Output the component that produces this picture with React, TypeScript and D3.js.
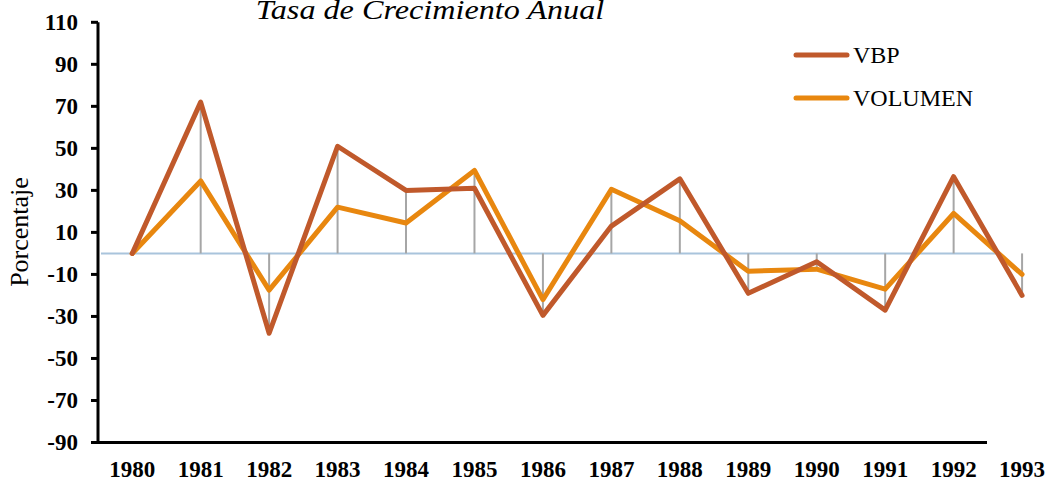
import React from "react";
import * as d3 from "d3";

const years = ["1980","1981","1982","1983","1984","1985","1986","1987","1988","1989","1990","1991","1992","1993"];
const vbp = [0, 72, -38, 51, 30, 31, -29.5, 13, 35.5, -19, -4, -27, 36.5, -20];
const volumen = [0, 34.5, -17.5, 22, 14.5, 39.5, -22, 30.5, 15.5, -8.5, -7.5, -17, 19, -10];
const yTicks = [110, 90, 70, 50, 30, 10, -10, -30, -50, -70, -90];

const W = 1050, H = 479;
const FONT = "Liberation Serif, Tinos, Nimbus Roman, Times New Roman, Times, DejaVu Serif, serif";
const C_VBP = "#C0592B";
const C_VOL = "#E8870F";

export default function App() {
  const axisX = 98;
  const step = 68.45;
  const x = (i: number) => axisX + (i + 0.5) * step;
  const y = d3.scaleLinear().domain([-90, 110]).range([442.5, 22.3]);
  const line = d3.line<number>().x((_, i) => x(i)).y(d => y(d));
  const y0 = y(0);
  return (
    <svg width={W} height={H} style={{ position: "absolute", left: 0, top: 0, background: "#fff" }}>
      <g transform="translate(430,19) scale(1.15,1)">
        <text x={0} y={0} textAnchor="middle" style={{ fontFamily: FONT }} fontStyle="italic" fontSize={28}>Tasa de Crecimiento Anual</text>
      </g>
      <line x1={101} x2={998} y1={y0} y2={y0} stroke="#A9C4DC" strokeWidth={2} />
      {years.map((yr, i) => {
        const top = Math.max(vbp[i], volumen[i]);
        const bot = Math.min(vbp[i], volumen[i]);
        const v = top > 0 ? top : bot;
        return <line key={yr} x1={x(i)} x2={x(i)} y1={y0} y2={y(v)} stroke="#A6A6A6" strokeWidth={2} />;
      })}
      <line x1={axisX} x2={axisX} y1={y(110)} y2={y(-90) + 1.5} stroke="#000" strokeWidth={3} />
      <line x1={axisX - 1.5} x2={987} y1={y(-90)} y2={y(-90)} stroke="#000" strokeWidth={3} />
      {yTicks.map(t => (
        <g key={t}>
          <line x1={91} x2={axisX} y1={y(t)} y2={y(t)} stroke="#000" strokeWidth={3} />
          <text x={78} y={y(t)} dy="0.34em" textAnchor="end" style={{ fontFamily: FONT }} fontWeight="bold" fontSize={23}>{t}</text>
        </g>
      ))}
      {years.map((yr, i) => (
        <text key={yr} x={x(i)} y={477} textAnchor="middle" style={{ fontFamily: FONT }} fontWeight="bold" fontSize={23}>{yr}</text>
      ))}
      <text transform={`translate(28,232) rotate(-90)`} textAnchor="middle" style={{ fontFamily: FONT }} fontSize={26}>Porcentaje</text>
      <path d={line(volumen) || ""} fill="none" stroke={C_VOL} strokeWidth={5} strokeLinejoin="round" strokeLinecap="round" />
      <path d={line(vbp) || ""} fill="none" stroke={C_VBP} strokeWidth={5} strokeLinejoin="round" strokeLinecap="round" />
      <line x1={796} x2={847} y1={55} y2={55} stroke={C_VBP} strokeWidth={5} strokeLinecap="round" />
      <text x={853} y={63} style={{ fontFamily: FONT }} fontSize={24}>VBP</text>
      <line x1={796} x2={847} y1={98} y2={98} stroke={C_VOL} strokeWidth={5} strokeLinecap="round" />
      <text x={853} y={106} style={{ fontFamily: FONT }} fontSize={24}>VOLUMEN</text>
    </svg>
  );
}
